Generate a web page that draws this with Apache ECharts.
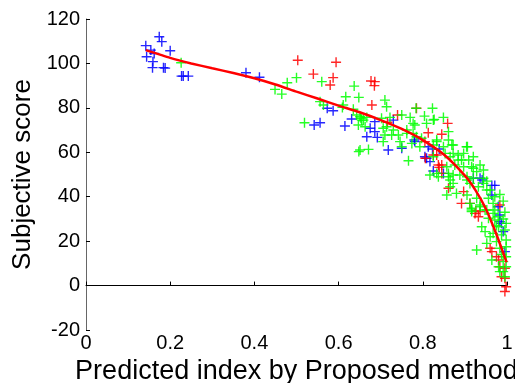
<!DOCTYPE html>
<html>
<head>
<meta charset="utf-8">
<script src="https://cdn.jsdelivr.net/npm/echarts@6/dist/echarts.min.js"></script>
<style>
  html, body { margin: 0; padding: 0; background: #fff; }
  #chart { width: 515px; height: 383px; }
</style>
</head>
<body>
<div id="chart"></div>
<script>
// scatter values, [predicted index, subjective score]
var bluePoints = [
  [0.142, 108], [0.144, 103], [0.154, 106], [0.162, 104.5], [0.159, 100.8], [0.158, 98.1],
  [0.174, 112], [0.180, 109.8], [0.184, 98.1], [0.188, 97.9], [0.200, 105.7], [0.227, 94.3],
  [0.231, 94.3], [0.243, 94.3], [0.380, 95.8], [0.412, 93.8],
  [0.573, 79.8], [0.587, 78.7], [0.631, 75], [0.542, 72.3], [0.556, 73.3], [0.615, 71.8],
  [0.686, 73.8], [0.730, 74.5], [0.675, 70.8], [0.667, 67], [0.686, 69.3], [0.692, 66.7],
  [0.718, 61], [0.750, 61.8], [0.780, 65.5], [0.813, 62.5], [0.823, 61.5], [0.839, 61.5],
  [0.805, 58], [0.817, 55.8], [0.825, 51.6], [0.849, 50.5], [0.920, 48.3], [0.941, 47.5],
  [0.964, 45.1], [0.971, 45.1], [0.979, 35.5], [0.983, 31.8], [0.983, 28.8], [0.995, 15.3],
  [0.809, 57.3], [0.987, 28], [0.991, 24.3], [0.964, 40.8], [0.936, 48.3], [0.781, 64.8]
];
var redPoints = [
  [0.503, 101.4], [0.594, 100.5], [0.540, 95.2], [0.587, 93.6], [0.580, 90.3], [0.677, 92.1],
  [0.686, 91.8], [0.685, 90], [0.679, 81.3], [0.785, 79.8], [0.740, 76.8], [0.859, 73],
  [0.716, 73.5], [0.813, 68.8], [0.845, 68.1], [0.825, 58.8], [0.837, 54.3], [0.861, 43.8],
  [0.845, 50.5], [0.892, 37], [0.912, 37], [0.932, 31], [0.926, 33.7], [0.960, 16.8],
  [0.964, 15.3], [0.980, 11.5], [0.995, 7.8], [0.995, 3.3], [0.998, -0.5], [0.983, 8.5],
  [0.805, 64.8], [0.806, 57.3], [0.833, 58.8], [0.845, 54.3], [0.897, 42.3], [0.983, 36.3],
  [0.936, 33.3], [0.924, 32.5], [0.975, 13], [0.987, 4], [0.995, -2.7], [0.839, 53.2]
];
var greenPoints = [
  [0.226, 100.3], [0.500, 93.6], [0.478, 91.3], [0.449, 88.3], [0.465, 86.2], [0.560, 91.8],
  [0.637, 89.8], [0.617, 85], [0.648, 84.7], [0.710, 83.5], [0.556, 82.8], [0.564, 81.3],
  [0.609, 80.2], [0.611, 81.3], [0.635, 79.4], [0.714, 80.5], [0.823, 79.8], [0.784, 79.8],
  [0.519, 73.3], [0.653, 75.3], [0.667, 75.7], [0.722, 75.7], [0.770, 75.7], [0.804, 76.3],
  [0.827, 74.8], [0.849, 75.7], [0.706, 70.8], [0.726, 67.8], [0.706, 64.8], [0.746, 64.8],
  [0.648, 60.3], [0.671, 61.3], [0.766, 56.2], [0.762, 70], [0.777, 68.5], [0.797, 66.3],
  [0.833, 64.8], [0.861, 69.3], [0.869, 63.3], [0.904, 62.5], [0.920, 58], [0.817, 49.8],
  [0.833, 50.5], [0.861, 49], [0.750, 76.8], [0.777, 73], [0.809, 73], [0.825, 74.5],
  [0.861, 65.5], [0.833, 65.5], [0.825, 58], [0.872, 59.5], [0.884, 56.5], [0.916, 53.5],
  [0.928, 51.3], [0.857, 53.5], [0.872, 49.8], [0.905, 47.5], [0.865, 47.5], [0.944, 48.3],
  [0.837, 49], [0.655, 74.5], [0.647, 72.3], [0.663, 71.5], [0.714, 71.5], [0.730, 70],
  [0.742, 67.8], [0.710, 67.8], [0.651, 61], [0.762, 68.5], [0.643, 76.8], [0.781, 72.3],
  [0.785, 67], [0.774, 64], [0.793, 62.5], [0.750, 62.5], [0.702, 75.3], [0.651, 76],
  [0.659, 74.5], [0.906, 62.5], [0.872, 63.3], [0.825, 63.3], [0.884, 58.8], [0.892, 56.5],
  [0.865, 58], [0.876, 54.3], [0.897, 53.5], [0.920, 52.8], [0.920, 48.3], [0.905, 49],
  [0.888, 49.8], [0.944, 46], [0.952, 43], [0.932, 44.5], [0.912, 46], [0.865, 44.5],
  [0.880, 41.5], [0.905, 40.8], [0.928, 39.3], [0.956, 39.3], [0.936, 36.3], [0.967, 37],
  [0.948, 34], [0.971, 34], [0.916, 34], [0.849, 62.5], [0.853, 59.5], [0.861, 50.5],
  [0.897, 59.5], [0.909, 56.5], [0.936, 54.3], [0.944, 52], [0.872, 46], [0.912, 37],
  [0.928, 16], [0.940, 26.5], [0.948, 24.3], [0.960, 22], [0.964, 11.5], [0.980, 8.5],
  [0.991, 6.3], [0.998, 20.5], [0.998, 17.5], [0.971, 29.5], [0.956, 30.3], [0.980, 26.5],
  [0.987, 22.8], [0.975, 19.8], [0.983, 16.8], [0.991, 10.8], [0.998, 8.5], [0.995, 4],
  [0.967, 32.5], [0.952, 34], [0.936, 35.5], [0.916, 34.8], [0.952, 19], [0.967, 23.5],
  [0.857, 40.8], [0.916, 33.3], [0.983, 6.3], [0.991, 38], [0.995, 33], [0.998, 28],
  [0.991, 30], [0.995, 25], [0.998, 13], [0.987, 14], [0.975, 27], [0.979, 31],
  [0.971, 40], [0.983, 41], [0.960, 43], [0.952, 47]
];

// fitted curve
var fitX = [0.142, 0.2, 0.25, 0.3, 0.35, 0.4, 0.45, 0.5, 0.55, 0.6, 0.65, 0.7, 0.75, 0.8, 0.85, 0.9, 0.925, 0.95, 0.975, 0.999];
var fitY = [106, 102.5, 100, 97.8, 95.7, 93.3, 90.5, 87.3, 84.2, 81, 78, 74.5, 70.5, 65.5, 59, 49.5, 43, 34.5, 23, 10.5];

var xTicks = [0, 0.2, 0.4, 0.6, 0.8, 1];
var yTicks = [-20, 0, 20, 40, 60, 80, 100, 120];

var plusMark = 'path://M0,4.3H10V5.7H0Z M4.3,0H5.7V10H4.3Z';

var chart = echarts.init(document.getElementById('chart'), null, { renderer: 'canvas' });

function scatter(data, color) {
  return {
    type: 'scatter',
    data: data,
    symbol: plusMark,
    symbolSize: 10,
    itemStyle: { color: color, opacity: 0.85 },
    silent: true
  };
}

var textFont = 'Liberation Sans, Arial, sans-serif';

chart.setOption({
  animation: false,
  backgroundColor: '#fff',
  grid: { left: 86, right: 8, top: 19, bottom: 53, containLabel: false, outerBoundsMode: 'none' },
  xAxis: {
    type: 'value',
    min: xTicks[0],
    max: xTicks[xTicks.length - 1],
    interval: 0.2,
    name: 'Predicted index by Proposed method',
    nameLocation: 'middle',
    nameGap: 23,
    nameTextStyle: { fontSize: 27, color: '#000', fontFamily: textFont },
    axisLine: { lineStyle: { color: '#000', width: 1 } },
    axisTick: { inside: true, length: 4, lineStyle: { color: '#000' } },
    axisLabel: {
      fontSize: 20, color: '#000', fontFamily: textFont, margin: 3,
      formatter: function (v) { return String(+v.toFixed(1)); }
    },
    splitLine: { show: false }
  },
  yAxis: {
    type: 'value',
    min: yTicks[0],
    max: yTicks[yTicks.length - 1],
    interval: 20,
    name: 'Subjective score',
    nameLocation: 'middle',
    nameGap: 47,
    nameTextStyle: { fontSize: 26, color: '#000', fontFamily: textFont },
    axisLine: { lineStyle: { color: '#666', width: 1 } },
    axisTick: { inside: true, length: 4, lineStyle: { color: '#000' } },
    axisLabel: { fontSize: 20, color: '#000', fontFamily: textFont, margin: 6 },
    splitLine: { show: false }
  },
  series: [
    scatter(bluePoints, '#0000ff'),
    scatter(redPoints, '#ff0000'),
    scatter(greenPoints, '#00ff00'),
    {
      type: 'line',
      data: fitX.map(function (x, i) { return [x, fitY[i]]; }),
      showSymbol: false,
      smooth: 0.2,
      lineStyle: { color: '#ff0000', width: 2.5 },
      silent: true,
      z: 5
    }
  ]
});
</script>
</body>
</html>
